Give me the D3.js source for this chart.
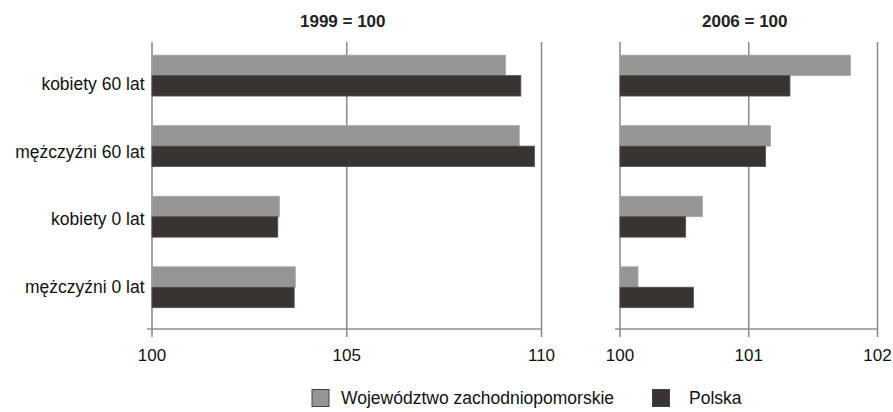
<!DOCTYPE html>
<html>
<head>
<meta charset="utf-8">
<script src="https://cdn.jsdelivr.net/npm/d3@7/dist/d3.min.js"></script>
<style>
  html, body { margin: 0; padding: 0; background: #fff; }
  svg { display: block; font-family: "Liberation Sans", Arial, sans-serif; }
</style>
</head>
<body>
<svg id="chart" width="893" height="412"></svg>
<script>
// Life expectancy indices by group
const categories = ["kobiety 60 lat", "mężczyźni 60 lat", "kobiety 0 lat", "mężczyźni 0 lat"];
const seriesNames = ["Województwo zachodniopomorskie", "Polska"];

// Base year 1999 = 100
const region1999 = [109.08, 109.43, 103.27, 103.68];
const poland1999 = [109.47, 109.82, 103.23, 103.65];

// Base year 2006 = 100
const region2006 = [101.79, 101.17, 100.64, 100.14];
const poland2006 = [101.32, 101.13, 100.51, 100.57];

const ticks1999 = [100, 105, 110];
const ticks2006 = [100, 101, 102];

const colors = ["#969594", "#383431"];
const gridColor = "#8f8f8f";

const svg = d3.select("#chart");

const y = d3.scaleBand()
  .domain(categories)
  .range([40.3, 322.5])
  .paddingInner(0.42)
  .paddingOuter(0.21);

const ySub = d3.scaleBand()
  .domain(seriesNames)
  .range([0, y.bandwidth()]);

// Category labels sit on their own evenly spaced rows
const yLabel = d3.scalePoint()
  .domain(categories)
  .range([84, 287]);

const gridTop = 42;
const axisY = 329;

function panel(title, domain, range, ticks, regionVals, polandVals) {
  const x = d3.scaleLinear().domain(domain).range(range);
  const g = svg.append("g");

  // vertical gridlines
  g.selectAll("line.grid")
    .data(ticks)
    .join("line")
    .attr("class", "grid")
    .attr("x1", d => x(d)).attr("x2", d => x(d))
    .attr("y1", gridTop).attr("y2", axisY + 8)
    .attr("stroke", gridColor)
    .attr("stroke-width", 1.6);

  // horizontal axis line
  g.append("line")
    .attr("x1", x(domain[0]) - 5).attr("x2", x(domain[1]))
    .attr("y1", axisY).attr("y2", axisY)
    .attr("stroke", gridColor)
    .attr("stroke-width", 1.6);

  // tick labels
  g.selectAll("text.tick")
    .data(ticks)
    .join("text")
    .attr("class", "tick")
    .attr("x", d => x(d))
    .attr("y", 361)
    .attr("text-anchor", "middle")
    .attr("font-size", "17px")
    .attr("fill", "#111")
    .text(d => d);

  // title
  g.append("text")
    .attr("x", (range[0] + range[1]) / 2 - 4)
    .attr("y", 27)
    .attr("text-anchor", "middle")
    .attr("font-size", "17px")
    .attr("font-weight", "bold")
    .attr("fill", "#222")
    .text(title);

  // bars
  const rows = categories.map((c, i) => ({ c, vals: [regionVals[i], polandVals[i]] }));
  const rowG = g.selectAll("g.row")
    .data(rows)
    .join("g")
    .attr("class", "row")
    .attr("transform", d => `translate(0,${y(d.c)})`);

  rowG.selectAll("rect")
    .data(d => d.vals.map((v, k) => ({ s: seriesNames[k], v, k })))
    .join("rect")
    .attr("x", x(domain[0]))
    .attr("y", d => ySub(d.s))
    .attr("width", d => x(d.v) - x(domain[0]))
    .attr("height", ySub.bandwidth())
    .attr("fill", d => colors[d.k])
    .attr("stroke", d => d.k === 0 ? "#a9a9a9" : "#55514e")
    .attr("stroke-width", 0.8);
}

panel("1999 = 100", [100, 110], [152, 541.5], ticks1999, region1999, poland1999);
panel("2006 = 100", [100, 102], [620, 877.5], ticks2006, region2006, poland2006);

// category labels
svg.append("g")
  .selectAll("text")
  .data(categories)
  .join("text")
  .attr("x", 144.5)
  .attr("y", d => yLabel(d) + 6)
  .attr("text-anchor", "end")
  .attr("font-size", "17.5px")
  .attr("fill", "#111")
  .text(d => d);

// legend
const legendItems = [
  { name: seriesNames[0], color: colors[0], sx: 312, tx: 341 },
  { name: seriesNames[1], color: colors[1], sx: 652.5, tx: 689 }
];
const lg = svg.append("g");
lg.selectAll("rect")
  .data(legendItems)
  .join("rect")
  .attr("x", d => d.sx)
  .attr("y", 389.5)
  .attr("width", 17)
  .attr("height", 17)
  .attr("fill", d => d.color)
  .attr("stroke", "#444")
  .attr("stroke-width", 1);
lg.selectAll("text")
  .data(legendItems)
  .join("text")
  .attr("x", d => d.tx)
  .attr("y", 403.5)
  .attr("font-size", "17.5px")
  .attr("fill", "#111")
  .text(d => d.name);
</script>
</body>
</html>
